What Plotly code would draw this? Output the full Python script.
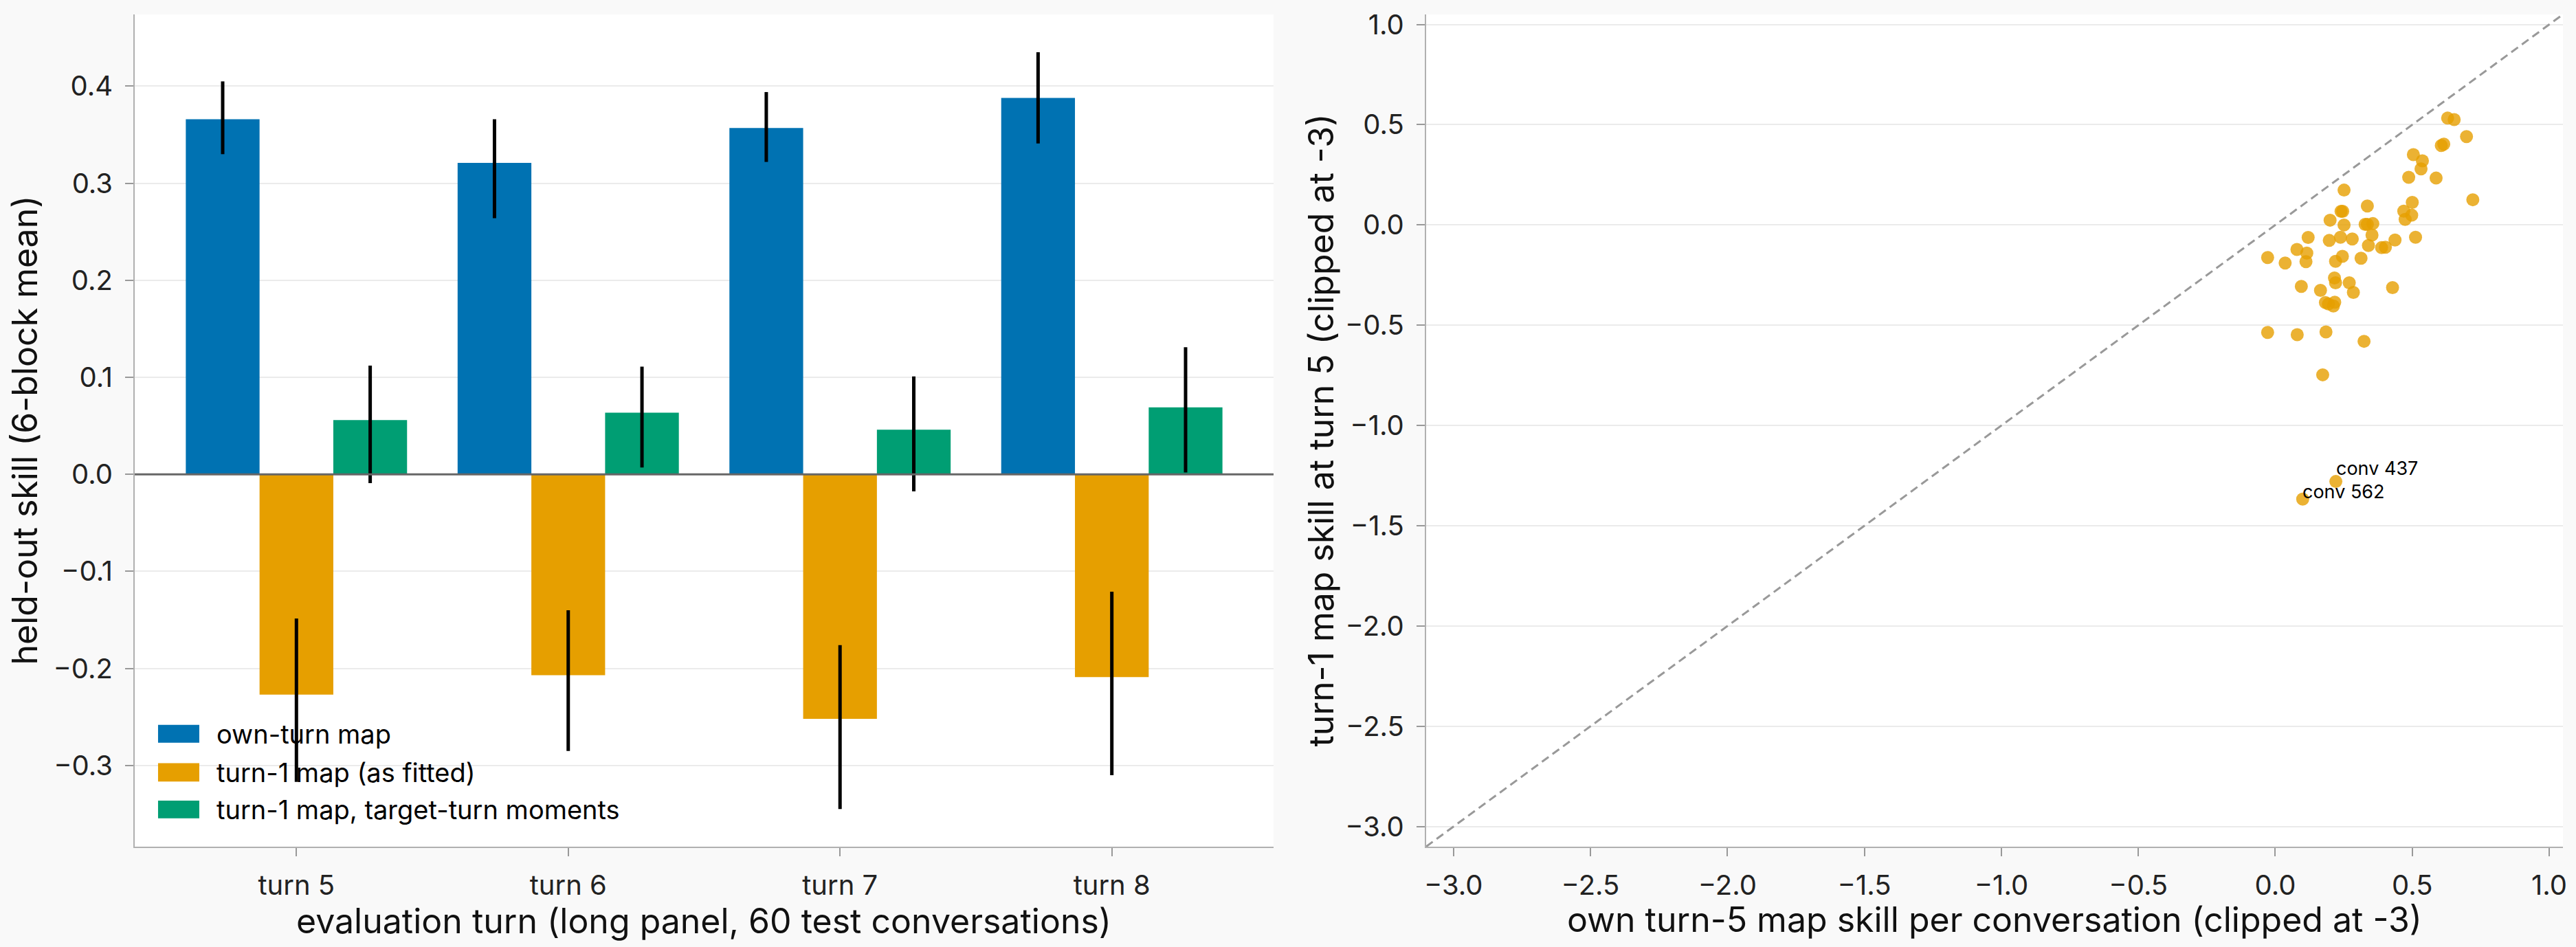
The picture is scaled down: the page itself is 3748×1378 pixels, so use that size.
import plotly.graph_objects as go

# ---------------- data ----------------
turns = ["turn 5", "turn 6", "turn 7", "turn 8"]

own_val = [0.366, 0.321, 0.357, 0.388]
own_lo = [0.330, 0.264, 0.322, 0.341]
own_hi = [0.405, 0.366, 0.394, 0.435]

t1_val = [-0.227, -0.207, -0.252, -0.209]
t1_lo = [-0.317, -0.285, -0.345, -0.310]
t1_hi = [-0.1485, -0.140, -0.176, -0.121]

tm_val = [0.056, 0.0635, 0.046, 0.069]
tm_lo = [-0.009, 0.007, -0.0176, 0.002]
tm_hi = [0.112, 0.111, 0.101, 0.131]

series_names = ["own-turn map", "turn-1 map (as fitted)", "turn-1 map, target-turn moments"]
series_colors = ["#0072B2", "#E69F00", "#009E73"]

own5_skill = [0.629, 0.653, 0.698, 0.606, 0.615, 0.504, 0.537, 0.532, 0.487, 0.587,
              0.721, 0.251, 0.336, 0.500, 0.240, 0.246, 0.469, 0.498, 0.474, 0.200,
              0.251, 0.328, 0.356, 0.336, 0.353, 0.120, 0.197, 0.238, 0.281, 0.437,
              0.512, 0.340, 0.388, 0.402, 0.079, 0.115, 0.112, -0.028, 0.036, 0.245,
              0.220, 0.313, 0.216, 0.220, 0.270, 0.285, 0.428, 0.095, 0.165, 0.183,
              0.194, 0.217, 0.212, -0.028, 0.080, 0.185, 0.324, 0.173, 0.221, 0.100]
t1_skill = [0.533, 0.526, 0.441, 0.396, 0.403, 0.351, 0.320, 0.280, 0.238, 0.234,
            0.126, 0.174, 0.095, 0.113, 0.068, 0.068, 0.069, 0.049, 0.028, 0.024,
            0.000, 0.003, 0.007, 0.003, -0.050, -0.062, -0.077, -0.061, -0.070, -0.075,
            -0.061, -0.102, -0.113, -0.111, -0.122, -0.140, -0.183, -0.162, -0.190, -0.156,
            -0.181, -0.166, -0.264, -0.288, -0.288, -0.336, -0.312, -0.306, -0.326, -0.387,
            -0.394, -0.385, -0.404, -0.536, -0.547, -0.533, -0.580, -0.747, -1.279, -1.367]
labelled = {58: "conv 437", 59: "conv 562"}
label_yshift = {58: 2, 59: -7}

left_yrange = [-0.3837, 0.474]
left_yticks = [-0.3, -0.2, -0.1, 0.0, 0.1, 0.2, 0.3, 0.4]
scatter_lim = [-3.1, 1.05]
scatter_ticks = [-3.0, -2.5, -2.0, -1.5, -1.0, -0.5, 0.0, 0.5, 1.0]

# ---------------- style ----------------
FONT = "Inter"
TICK_SIZE = 40
TITLE_SIZE = 50
LEG_SIZE = 38
W, H = 3748, 1378
ML, MR, MT, MB = 196, 19, 11, 146

fig = go.Figure()

vals = [own_val, t1_val, tm_val]
los = [own_lo, t1_lo, tm_lo]
his = [own_hi, t1_hi, tm_hi]
for name, col, v, lo, hi in zip(series_names, series_colors, vals, los, his):
    fig.add_trace(go.Bar(
        x=turns, y=v, name=name, marker=dict(color=col, line=dict(width=0)),
        error_y=dict(type="data", symmetric=False,
                     array=[h - a for h, a in zip(hi, v)],
                     arrayminus=[a - l for a, l in zip(v, lo)],
                     color="black", thickness=5, width=0),
        xaxis="x", yaxis="y", showlegend=False,
    ))

# diagonal y = x reference
fig.add_trace(go.Scatter(
    x=scatter_lim, y=scatter_lim, mode="lines",
    line=dict(color="#999999", width=3, dash="12px,7px"),
    xaxis="x2", yaxis="y2", showlegend=False, hoverinfo="skip",
))
fig.add_trace(go.Scatter(
    x=own5_skill, y=t1_skill, mode="markers",
    marker=dict(color="#E69F00", size=19, opacity=0.8, line=dict(width=0)),
    xaxis="x2", yaxis="y2", showlegend=False,
))

axis_common = dict(
    showline=True, linecolor="#b0b0b0", linewidth=2, mirror=False,
    ticks="outside", ticklen=12, tickwidth=2, tickcolor="#999999",
    tickfont=dict(family=FONT, size=TICK_SIZE, color="#222222"),
    zeroline=False,
)

fig.update_layout(
    width=W, height=H,
    margin=dict(l=ML, r=MR, t=MT, b=MB),
    paper_bgcolor="#f9f9f9", plot_bgcolor="#ffffff",
    font=dict(family=FONT, color="#111111"),
    barmode="group", bargap=0.186, bargroupgap=0,
    xaxis=dict(domain=[0, 0.469], range=[-0.595, 3.595], type="category",
               showgrid=False, ticklabelstandoff=8, **axis_common),
    yaxis=dict(domain=[0, 1], range=left_yrange, tickvals=left_yticks,
               tickformat=".1f", showgrid=True, gridcolor="#ebebeb", gridwidth=2,
               ticklabelstandoff=10, **axis_common),
    xaxis2=dict(domain=[0.5318, 1], range=scatter_lim, tickvals=scatter_ticks,
                tickformat=".1f", showgrid=False, anchor="y2",
                ticklabelstandoff=8, **axis_common),
    yaxis2=dict(domain=[0, 1], range=scatter_lim, tickvals=scatter_ticks,
                tickformat=".1f", showgrid=True, gridcolor="#ebebeb", gridwidth=2,
                anchor="x2", ticklabelstandoff=10, **axis_common),
    showlegend=False,
)

# zero line above bars
fig.add_shape(type="line", xref="x domain", yref="y", x0=0, x1=1, y0=0, y1=0,
              line=dict(color="#666666", width=3), layer="above")

# custom legend (matplotlib-like swatches)
leg_rows = [(0.1463, 0.125), (0.1004, 0.0783), (0.0554, 0.0341)]
for (ytop, ybot), name, col in zip(leg_rows, series_names, series_colors):
    fig.add_shape(type="rect", xref="x domain", yref="y domain",
                  x0=0.0205, x1=0.0567, y0=ybot, y1=ytop,
                  fillcolor=col, line=dict(width=0), layer="above")
    fig.add_annotation(xref="x domain", yref="y domain", x=0.0706, y=(ytop + ybot) / 2,
                       text=name, showarrow=False, xanchor="left", yanchor="middle",
                       font=dict(family=FONT, size=LEG_SIZE, color="#000000"))

# point labels
for idx, txt in labelled.items():
    fig.add_annotation(xref="x2", yref="y2", x=own5_skill[idx], y=t1_skill[idx],
                       text=txt, showarrow=False, xanchor="left", yanchor="bottom",
                       yshift=label_yshift[idx], xshift=-1, borderpad=0,
                       font=dict(family=FONT, size=27, color="#000000"))

# axis titles
title_font = dict(family=FONT, size=TITLE_SIZE, color="#111111")
pw = W - ML - MR
ph = H - MT - MB
fig.add_annotation(xref="paper", yref="paper", x=(1024 - ML) / pw, y=(H - MB - 1373) / ph,
                   text="evaluation turn (long panel, 60 test conversations)",
                   showarrow=False, xanchor="center", yanchor="bottom", font=title_font)
fig.add_annotation(xref="paper", yref="paper", x=(2902 - ML) / pw, y=(H - MB - 1371) / ph,
                   text="own turn-5 map skill per conversation (clipped at -3)",
                   showarrow=False, xanchor="center", yanchor="bottom", font=title_font)
fig.add_annotation(xref="paper", yref="paper", x=(35 - ML) / pw, y=0.5,
                   text="held-out skill (6-block mean)", textangle=-90,
                   showarrow=False, xanchor="center", yanchor="middle", font=title_font)
fig.add_annotation(xref="paper", yref="paper", x=(1921 - ML) / pw, y=0.5,
                   text="turn-1 map skill at turn 5 (clipped at -3)", textangle=-90,
                   showarrow=False, xanchor="center", yanchor="middle", font=title_font)

fig.write_html("out.html")
